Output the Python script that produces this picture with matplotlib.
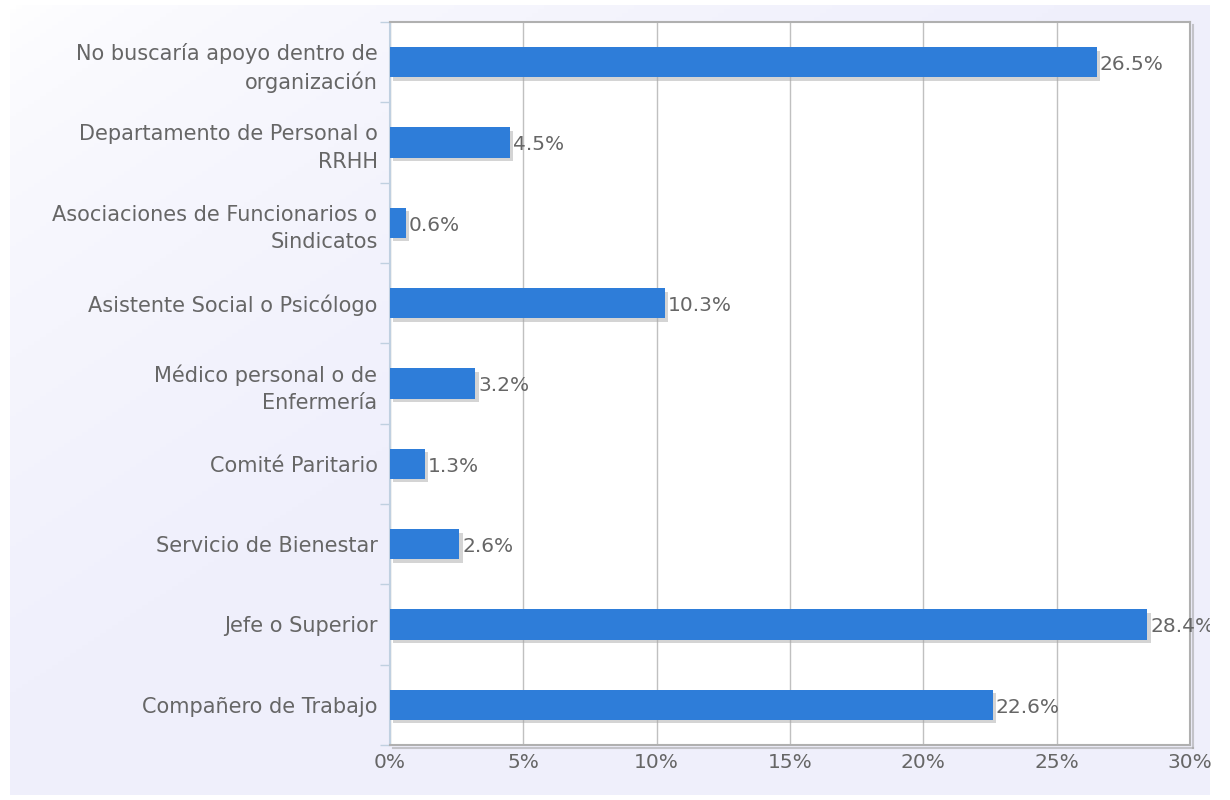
import numpy as np
import matplotlib
matplotlib.use('Agg')
import matplotlib.pyplot as plt
import matplotlib.patheffects as pe
from matplotlib.ticker import FuncFormatter, MultipleLocator

plt.rcParams['font.family'] = ['DejaVu Sans']

# categories top to bottom
categories = ['No buscaría apoyo dentro de\norganización',
              'Departamento de Personal o\nRRHH',
              'Asociaciones de Funcionarios o\nSindicatos',
              'Asistente Social o Psicólogo',
              'Médico personal o de\nEnfermería',
              'Comité Paritario',
              'Servicio de Bienestar',
              'Jefe o Superior',
              'Compañero de Trabajo']
values = [26.5, 4.5, 0.6, 10.3, 3.2, 1.3, 2.6, 28.4, 22.6]

txt = '#666666'
bar_col = '#2e7dd9'
fs = 14.5

fig = plt.figure(figsize=(12.3, 8), dpi=100)

# light lavender gradient background, whiter at top-left
bg = fig.add_axes([10/1230, 5/800, 1200/1230, 790/800], zorder=-10)
gx = np.linspace(0, 1, 200)
gy = np.linspace(0, 1, 200)
GX, GY = np.meshgrid(gx, gy)
g = np.clip((GX + GY) / 0.9, 0, 1) ** 0.6
c0 = np.array([1.0, 1.0, 1.0])
c1 = np.array([0.94, 0.94, 0.988])
img = c0[None, None, :] * (1 - g[..., None]) + c1[None, None, :] * g[..., None]
bg.imshow(img, aspect='auto', extent=[0, 1, 0, 1], origin='upper')
bg.axis('off')

ax = fig.add_axes([390/1230, 55/800, 800/1230, 723/800])
ax.set_facecolor('white')

y = np.arange(len(categories))
bars = ax.barh(y, values, height=0.375, color=bar_col, zorder=3)
for b in bars:
    b.set_path_effects([pe.SimplePatchShadow(offset=(2.5, -2.5), shadow_rgbFace='#aaaaaa', alpha=0.5),
                        pe.Normal()])

# value labels, cut off at the edge of the background like the original
for yi, v in zip(y, values):
    t = ax.text(v + 0.1, yi + 0.03, f'{v:.1f}%', va='center', ha='left', color=txt,
                fontsize=fs, zorder=4)
    t.set_clip_on(True)
    t.set_clip_path(None)
    t.set_clip_box(bg.bbox)

ax.set_ylim(len(categories) - 0.5, -0.5)
ax.set_xlim(0, 30)
ax.xaxis.set_major_locator(MultipleLocator(5))
ax.xaxis.set_major_formatter(FuncFormatter(lambda x, p: f'{x:.0f}%'))
ax.grid(axis='x', color='#c0c0c0', linewidth=1, zorder=1)
ax.set_axisbelow(True)

ax.set_yticks(y)
ax.set_yticklabels(categories, fontsize=15, color=txt, linespacing=1.45)
ax.set_yticks(np.arange(-0.5, len(categories), 1), minor=True)
ax.tick_params(axis='y', which='major', length=0, pad=9)
ax.tick_params(axis='y', which='minor', length=7, color='#c0d0e0', width=1)
ax.tick_params(axis='x', length=0, labelsize=fs, labelcolor=txt, pad=6)

for s in ['top', 'right', 'bottom']:
    ax.spines[s].set_color('#b0b0b0')
    ax.spines[s].set_linewidth(1.5)
ax.spines['left'].set_color('#c0d0e0')
ax.spines['left'].set_linewidth(1.5)
ax.spines['right'].set_path_effects([pe.SimpleLineShadow(offset=(2, -2), shadow_color='#999999', alpha=0.5), pe.Normal()])
ax.spines['bottom'].set_path_effects([pe.SimpleLineShadow(offset=(2, -2), shadow_color='#999999', alpha=0.5), pe.Normal()])

fig.savefig('out.png', dpi=100)
